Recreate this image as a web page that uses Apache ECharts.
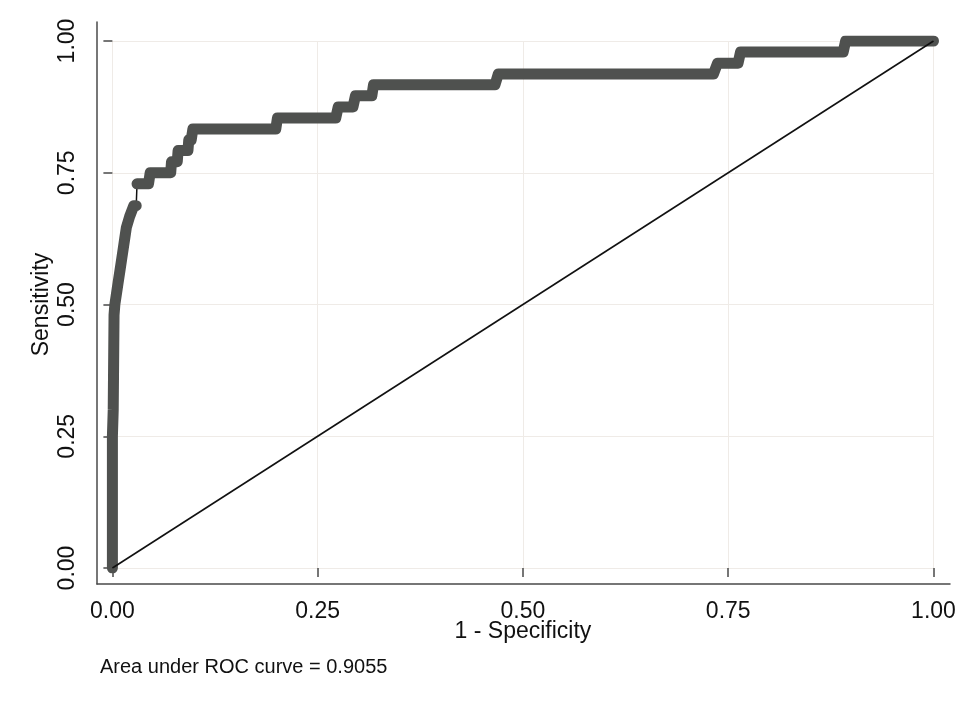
<!DOCTYPE html>
<html>
<head>
<meta charset="utf-8">
<script src="https://cdn.jsdelivr.net/npm/echarts@6/dist/echarts.min.js"></script>
<style>
html,body{margin:0;padding:0;background:#ffffff;}
#chart{width:974px;height:703px;}
</style>
</head>
<body>
<div id="chart"></div>
<script>
// ROC curve corner points (1 - Specificity, Sensitivity)
var rocFpr = [0.000, 0.000, 0.001, 0.002, 0.003, 0.005, 0.007, 0.009, 0.011, 0.013, 0.015, 0.017, 0.021, 0.026, 0.029,
              0.030, 0.044, 0.046, 0.071, 0.072, 0.079, 0.080, 0.092, 0.093, 0.096, 0.098, 0.199, 0.201, 0.272,
              0.275, 0.293, 0.296, 0.316, 0.318, 0.466, 0.470, 0.732, 0.737, 0.762, 0.765, 0.890, 0.893, 1.000];
var rocTpr = [0.000, 0.250, 0.300, 0.480, 0.500, 0.521, 0.542, 0.5625, 0.583, 0.604, 0.625, 0.646, 0.667, 0.6875, 0.6875,
              0.729, 0.729, 0.750, 0.750, 0.771, 0.771, 0.792, 0.792, 0.8125, 0.8125, 0.833, 0.833, 0.854, 0.854,
              0.875, 0.875, 0.896, 0.896, 0.917, 0.917, 0.9375, 0.9375, 0.958, 0.958, 0.979, 0.979, 1.000, 1.000];
// index after which the curve jumps (thin connecting line only)
var jumpAfter = 14;
// reference (chance) line
var diagX = [0, 1];
var diagY = [0, 1];
// ticks
var tickValues = [0, 0.25, 0.5, 0.75, 1];
var xTitle = '1 - Specificity';
var yTitle = 'Sensitivity';
var note = 'Area under ROC curve = 0.9055';

var thinData = rocFpr.map(function (x, i) { return [x, rocTpr[i]]; });
var thickData = [];
rocFpr.forEach(function (x, i) {
  thickData.push([x, rocTpr[i]]);
  if (i === jumpAfter) thickData.push(['-', '-']);
});
var diagData = diagX.map(function (x, i) { return [x, diagY[i]]; });

var FONT = 'Liberation Sans, Arial, sans-serif';
var AX = '#4a4a4a';
var chart = echarts.init(document.getElementById('chart'), null, {renderer: 'canvas'});
chart.setOption({
  animation: false,
  backgroundColor: '#ffffff',
  title: {
    text: note, left: 100, top: 657, padding: 0,
    textStyle: {fontFamily: FONT, fontSize: 20, fontWeight: 'normal', color: '#111'}
  },
  grid: [
    {left: 112.4, right: 40.5, top: 41, bottom: 135},
    {left: 97, right: 24, top: 22, bottom: 119}
  ],
  xAxis: [
    {
      gridIndex: 0, type: 'value', min: 0, max: 1, interval: 0.25, offset: 16,
      axisLine: {show: false},
      axisTick: {show: true, length: 9, lineStyle: {color: AX, width: 1.5}},
      axisLabel: {margin: 16, fontFamily: FONT, fontSize: 23, color: '#111',
        formatter: function (v) { return v.toFixed(2); }},
      splitLine: {show: true, lineStyle: {color: '#efebe7', width: 1}},
      name: xTitle, nameLocation: 'middle', nameGap: 36, nameMoveOverlap: false,
      nameTextStyle: {fontFamily: FONT, fontSize: 23, color: '#111'}
    },
    {
      gridIndex: 1, type: 'value', min: 0, max: 1,
      axisLine: {show: true, onZero: false, lineStyle: {color: AX, width: 1.5}},
      axisTick: {show: false}, axisLabel: {show: false}, splitLine: {show: false}
    }
  ],
  yAxis: [
    {
      gridIndex: 0, type: 'value', min: 0, max: 1, interval: 0.25, offset: 15,
      axisLine: {show: false},
      axisTick: {show: true, length: 9, lineStyle: {color: AX, width: 1.5}},
      axisLabel: {margin: 18, rotate: 90, fontFamily: FONT, fontSize: 23, color: '#111',
        formatter: function (v) { return v.toFixed(2); }},
      splitLine: {show: true, lineStyle: {color: '#efebe7', width: 1}},
      name: yTitle, nameLocation: 'middle', nameGap: 44, nameMoveOverlap: false,
      nameTextStyle: {fontFamily: FONT, fontSize: 23, color: '#111'}
    },
    {
      gridIndex: 1, type: 'value', min: 0, max: 1,
      axisLine: {show: true, onZero: false, lineStyle: {color: AX, width: 1.5}},
      axisTick: {show: false}, axisLabel: {show: false}, splitLine: {show: false}
    }
  ],
  series: [
    {
      type: 'line', xAxisIndex: 0, yAxisIndex: 0, data: thinData, symbol: 'none', z: 2,
      lineStyle: {color: '#111', width: 1.5}
    },
    {
      type: 'line', xAxisIndex: 0, yAxisIndex: 0, data: thickData, symbol: 'none', z: 3,
      connectNulls: false,
      lineStyle: {color: '#4f514f', width: 11, cap: 'round', join: 'round'}
    },
    {
      type: 'line', xAxisIndex: 0, yAxisIndex: 0, data: diagData, symbol: 'none', z: 4,
      lineStyle: {color: '#111', width: 1.6}
    }
  ]
});
</script>
</body>
</html>
